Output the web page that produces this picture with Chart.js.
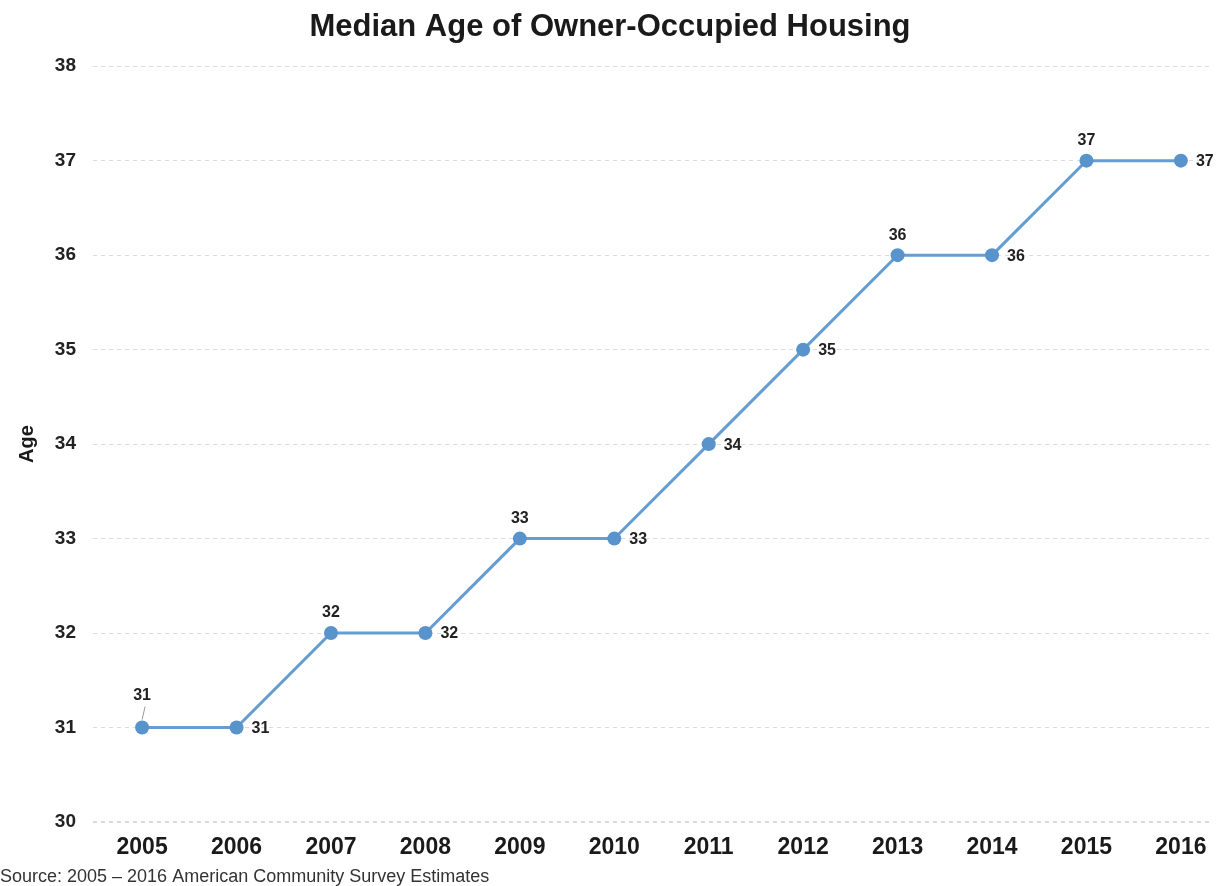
<!DOCTYPE html>
<html>
<head>
<meta charset="utf-8">
<script src="https://cdn.jsdelivr.net/npm/chart.js@4"></script>
<style>
html,body{margin:0;padding:0;background:#fff;}
#wrap{width:1220px;height:886px;position:relative;}
</style>
</head>
<body>
<div id="wrap"><canvas id="c" width="1220" height="886"></canvas></div>
<script>
const years = [2005, 2006, 2007, 2008, 2009, 2010, 2011, 2012, 2013, 2014, 2015, 2016];
const medianAge = [31, 31, 32, 32, 33, 33, 34, 35, 36, 36, 37, 37];
const yTicks = [30, 31, 32, 33, 34, 35, 36, 37, 38];
const labelPlacement = ['aboveLeader','right','above','right','above','right','right','right','above','right','above','right'];

const FONT = '"Liberation Sans", Arial, sans-serif';

const valueLabels = {
  id: 'valueLabels',
  afterDatasetsDraw(chart) {
    const ctx = chart.ctx;
    const meta = chart.getDatasetMeta(0);
    ctx.save();
    ctx.font = 'bold 16px ' + FONT;
    ctx.fillStyle = '#222';
    meta.data.forEach((pt, i) => {
      const v = chart.data.datasets[0].data[i].y;
      const p = labelPlacement[i];
      ctx.textBaseline = 'middle';
      if (p === 'above' || p === 'aboveLeader') {
        const dy = p === 'aboveLeader' ? 32 : 20;
        ctx.textAlign = 'center';
        ctx.fillText(String(v), pt.x, pt.y - dy);
        if (p === 'aboveLeader') {
          ctx.strokeStyle = '#999';
          ctx.lineWidth = 1;
          ctx.beginPath();
          ctx.moveTo(pt.x + 3, pt.y - 21);
          ctx.lineTo(pt.x, pt.y - 8);
          ctx.stroke();
        }
      } else {
        ctx.textAlign = 'left';
        ctx.fillText(String(v), pt.x + 15, pt.y + 1);
      }
    });
    ctx.restore();
  }
};

new Chart(document.getElementById('c'), {
  type: 'line',
  data: {
    datasets: [{
      data: years.map((y, i) => ({x: y, y: medianAge[i]})),
      borderColor: '#669dd0',
      backgroundColor: '#5893cb',
      borderWidth: 3,
      pointRadius: 7,
      pointBorderWidth: 0,
      pointBackgroundColor: '#5893cb',
      tension: 0,
      clip: false
    }]
  },
  options: {
    responsive: false,
    animation: false,
    layout: {padding: {left: 0, right: 0, top: 0, bottom: 0}},
    plugins: {
      legend: {display: false},
      tooltip: {enabled: false},
      title: {
        display: true,
        text: 'Median Age of Owner-Occupied Housing',
        font: {family: FONT, size: 31, weight: 'bold'},
        color: '#1a1a1a',
        padding: {top: 9, bottom: 20}
      },
      subtitle: {
        display: true,
        position: 'bottom',
        align: 'start',
        text: 'Source: 2005 \u2013 2016 American Community Survey Estimates',
        font: {family: FONT, size: 18, lineHeight: 1.0},
        color: '#333',
        padding: {top: 0, bottom: 0}
      }
    },
    scales: {
      x: {
        type: 'linear',
        min: 2004.48,
        max: 2016.34,
        afterBuildTicks(axis) { axis.ticks = years.map(v => ({value: v})); },
        afterFit(axis) { axis.height = 46; },
        grid: {display: false, drawTicks: false},
        border: {display: false},
        ticks: {
          font: {family: FONT, size: 23, weight: 'bold'},
          color: '#1a1a1a',
          padding: 12,
          maxRotation: 0,
          callback: v => String(v)
        }
      },
      y: {
        min: 30,
        max: 38,
        afterBuildTicks(axis) { axis.ticks = yTicks.map(v => ({value: v})); },
        afterFit(axis) { axis.width = 93; },
        grid: {
          color: ctx => ctx.tick && ctx.tick.value === 30 ? '#d9d9d9' : '#dcdcdc',
          lineWidth: ctx => ctx.tick && ctx.tick.value === 30 ? 2 : 1,
          drawTicks: false
        },
        border: {display: false, dash: [4, 4]},
        ticks: {
          font: {family: FONT, size: 19, weight: 'bold'},
          color: '#222',
          padding: 17
        },
        title: {
          display: true,
          text: 'Age',
          font: {family: FONT, size: 20, weight: 'bold'},
          color: '#1a1a1a',
          padding: {top: 15, bottom: 16}
        }
      }
    }
  },
  plugins: [valueLabels]
});
</script>
</body>
</html>
